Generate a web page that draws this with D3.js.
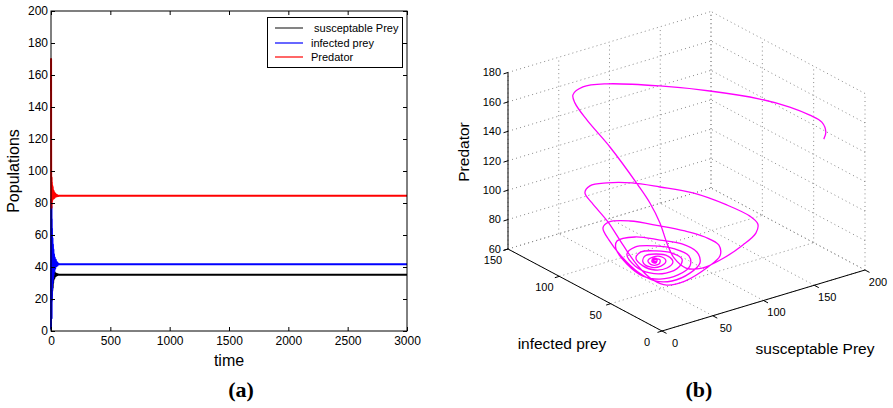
<!DOCTYPE html>
<html><head><meta charset="utf-8">
<script src="https://cdn.jsdelivr.net/npm/d3@7"></script>
<style>
body{margin:0;background:#fff}
svg{display:block}
text{font-family:Arial,"Liberation Sans",Helvetica,sans-serif;fill:#000}
text.serif{font-family:"Liberation Serif","Times New Roman",Times,serif;font-weight:bold}
</style>
</head><body>
<svg id="c" width="893" height="408"></svg>
<script>
// ---------- panel (a) data ----------
const timeVals    = [0,0.5,1,1.5,2,3,4,5,6,7,8,10,12,14,16,18,20,22,25,28,31,35,40,45,50,55,60,70,3000];
const susceptible = [30,22,18,24,32,20,30,19,33,22,34,25,37,27,38,30,37.5,32,37,33,36.5,34,36,34.6,35.6,35,35.3,35.2,35.2];
const infected    = [1,30,60,82,50,15,78,8,70,20,64,26,58,30,54,33,51,35,48,37,46,39,44.5,40.5,43,41,42.2,41.7,41.7];
const predator    = [150,170,120,95,80,92,77,96,79,93,81,91,82,90,82.5,88,83,87.5,83,86.5,83.5,86,84,85.2,84.2,84.8,84.4,84.5,84.5];
const timeTicks   = [0,500,1000,1500,2000,2500,3000];
const popTicks    = [0,20,40,60,80,100,120,140,160,180,200];
const seriesNames = [" susceptable Prey","infected prey","Predator"];
const seriesColors= ["#000000","#0000ff","#ff0000"];

// ---------- panel (b) data ----------
const trajS = [169.5,176.6,179.7,176.0,166.3,149.0,123.0,99.0,65.0,47.5,39.7,39.6,42.3,44.8,52.2,48.8,43.5,37.2,34.1,38.8,
  51.5,71.2,93.9,110.7,118.7,116.9,104.3,83.1,60.6,41.1,21.7,9.9,7.0,7.9,11.5,12.1,12.7,17.4,25.1,39.8,
  63.5,79.3,84.4,77.7,65.1,48.5,27.1,10.4,8.6,10.4,9.1,12.7,21.4,34.1,51.8,64.7,66.7,58.1,43.5,26.0,
  12.3,9.3,9.9,15.6,28.3,45.1,58.9,61.9,53.1,38.6,22.9,14.0,14.9,24.5,38.3,52.1,57.1,51.3,38.5,25.8,
  18.8,21.7,30.5,42.3,49.2,47.3,37.5,27.7,23.7,27.6,38.4,44.3,42.4,34.5,28.6,31.6,38.5,40.5,36.0,32.6,
  36.5,37.5,33.6,32.6,36.5,37.5,34.5,34.1,36.0,35];
const trajI = [10,15,22,30,40,52,75,100,118,124,126,124,115,95,75,60,45,32,22,15,
  12,12,14,18,24,30,40,52,62,70,75,80,82,76,64,50,36,26,20,17,
  18,22,28,35,42,50,58,62,66,62,48,36,28,24,24,27,32,38,45,52,
  56,54,44,34,30,29,31,35,40,45,49,48,41,36,34,35,37,41,44,46,
  44,40,37,37,38,41,43,44,42,39,39,40,42,43,42,41,41,42,42.5,42,
  42,42,42,42,42,42,42,42,42,42];
const trajP = [151.6,153.1,156.6,159.1,162.9,167.5,169.8,168.9,170.7,170.0,165.5,160.8,152.0,140.5,120.5,114.6,107.7,100.2,94.4,89.2,
  87.6,89.7,93.8,96.9,99.2,102.7,109.2,117.3,122.3,126.1,128.3,126.9,122.0,117.2,108.0,97.4,88.2,81.4,78.6,79.4,
  83.7,86.3,90.5,94.8,98.9,102.8,107.6,108.9,103.8,96.7,90.6,84.1,79.2,78.0,79.7,82.8,88.0,93.0,96.1,99.2,
  97.8,93.8,87.2,81.5,78.3,78.0,80.5,85.2,89.9,93.1,94.1,91.6,85.9,81.0,78.8,79.7,83.3,87.1,90.1,91.3,
  89.4,84.9,81.4,80.3,82.6,85.9,88.6,88.9,86.4,83.3,81.7,83.5,85.9,87.1,86.1,83.1,82.3,84.3,85.7,84.6,
  83.1,85.6,86.7,84.9,83.4,84.9,85.9,85.0,84.2,85];
const sTicks = [0,50,100,150,200];
const iTicks = [0,50,100,150];
const pTicks = [60,80,100,120,140,160,180];

const svg = d3.select("#c");

// ================= panel (a) =================
const x = d3.scaleLinear().domain([0,3000]).range([51,407]);
const y = d3.scaleLinear().domain([0,200]).range([331,11]);
const gA = svg.append("g");

const seriesVals = [susceptible, infected, predator];
const line = d3.line().x((d,k)=>x(timeVals[k])).y(d=>y(d));
seriesVals.forEach((vals,k)=>{
  gA.append("path").attr("d",line(vals)).attr("fill","none")
    .attr("stroke",seriesColors[k]).attr("stroke-width",2).attr("stroke-linejoin","round");
});

function styleAxis(g, size){
  g.select(".domain").remove();
  g.selectAll("line").attr("stroke","#000");
  g.selectAll("text").attr("font-size",size).attr("fill","#000");
}
const fmt = d3.format("d");
gA.append("g").attr("transform","translate(0,331)")
  .call(d3.axisBottom(x).tickValues(timeTicks).tickFormat(fmt).tickSize(-4).tickPadding(5.5))
  .call(g=>styleAxis(g,12));
gA.append("g").attr("transform","translate(0,11)")
  .call(d3.axisTop(x).tickValues(timeTicks).tickSize(-4).tickFormat(""))
  .call(g=>styleAxis(g,12));
gA.append("g").attr("transform","translate(51,0)")
  .call(d3.axisLeft(y).tickValues(popTicks).tickFormat(fmt).tickSize(-4).tickPadding(3))
  .call(g=>styleAxis(g,12));
gA.append("g").attr("transform","translate(407,0)")
  .call(d3.axisRight(y).tickValues(popTicks).tickSize(-4).tickFormat(""))
  .call(g=>styleAxis(g,12));
gA.append("rect").attr("x",x(0)).attr("y",y(200)).attr("width",x(3000)-x(0)).attr("height",y(0)-y(200))
  .attr("fill","none").attr("stroke","#000").attr("stroke-width",1);

// legend
const lg = gA.append("g");
lg.append("rect").attr("x",267.5).attr("y",17.5).attr("width",135).attr("height",50)
  .attr("fill","#fff").attr("stroke","#000").attr("stroke-width",1);
const legY = [28,43,57];
seriesNames.forEach((n,k)=>{
  lg.append("line").attr("x1",275).attr("x2",303).attr("y1",legY[k]).attr("y2",legY[k])
    .attr("stroke",k===0?"#333":seriesColors[k]).attr("stroke-width",1.2);
  lg.append("text").attr("x",311).attr("y",legY[k]).attr("dy","0.35em")
    .attr("xml:space","preserve").style("white-space","pre")
    .attr("font-size",11).text(n);
});

gA.append("text").attr("x",229).attr("y",366).attr("text-anchor","middle").attr("font-size",16).text("time");
gA.append("text").attr("transform","translate(19,171) rotate(-90)").attr("text-anchor","middle").attr("font-size",16).text("Populations");
gA.append("text").attr("class","serif").attr("x",241).attr("y",397).attr("text-anchor","middle")
  .attr("font-size",22).text("(a)");

// ================= panel (b) =================
const gB = svg.append("g");
const O  = [662,331];
const vS = [203,-61], vI = [-154,-82], vP = [0,-176.5];
const sScale = d3.scaleLinear().domain([0,200]).range([0,1]);
const iScale = d3.scaleLinear().domain([0,150]).range([0,1]);
const pScale = d3.scaleLinear().domain([60,180]).range([0,1]);
function proj(s,i,p){
  const a=sScale(s), b=iScale(i), c=pScale(p);
  return [O[0]+a*vS[0]+b*vI[0]+c*vP[0], O[1]+a*vS[1]+b*vI[1]+c*vP[1]];
}
const segs = [];
sTicks.forEach(s=>{ segs.push([[s,0,60],[s,150,60]]); segs.push([[s,150,60],[s,150,180]]); });
iTicks.forEach(i=>{ segs.push([[0,i,60],[200,i,60]]); segs.push([[200,i,60],[200,i,180]]); });
pTicks.forEach(p=>{ segs.push([[0,150,p],[200,150,p]]); segs.push([[200,0,p],[200,150,p]]); });
segs.forEach(([a,b])=>{
  const A=proj(...a), B=proj(...b);
  gB.append("line").attr("x1",A[0]).attr("y1",A[1]).attr("x2",B[0]).attr("y2",B[1])
    .attr("stroke","#8a8a8a").attr("stroke-width",1).attr("stroke-dasharray","1,3.2");
});

const pts = trajS.map((s,k)=>proj(s,trajI[k],trajP[k]));
gB.append("path").attr("d",d3.line().curve(d3.curveCatmullRom.alpha(0.5))(pts))
  .attr("fill","none").attr("stroke","#ff00ff").attr("stroke-width",1.3);

function axisLine(a,b){
  const A=proj(...a), B=proj(...b);
  gB.append("line").attr("x1",A[0]).attr("y1",A[1]).attr("x2",B[0]).attr("y2",B[1])
    .attr("stroke","#000").attr("stroke-width",1);
}
axisLine([0,150,60],[0,150,180]);
axisLine([0,0,60],[0,150,60]);
axisLine([0,0,60],[200,0,60]);

function tick(P,dx,dy){
  gB.append("line").attr("x1",P[0]).attr("y1",P[1]).attr("x2",P[0]+dx).attr("y2",P[1]+dy)
    .attr("stroke","#000").attr("stroke-width",1);
}
pTicks.forEach(p=>{
  const P=proj(0,150,p); tick(P,-4.5,1.4);
  gB.append("text").attr("x",P[0]-7).attr("y",P[1]).attr("dy","0.35em").attr("text-anchor","end")
    .attr("font-size",11).text(p);
});
iTicks.forEach(i=>{
  const P=proj(0,i,60); tick(P,-4.5,1.4);
  gB.append("text").attr("x",P[0]-15).attr("y",P[1]+11).attr("dy","0.35em").attr("text-anchor","middle")
    .attr("font-size",11).text(i);
});
sTicks.forEach(s=>{
  const P=proj(s,0,60); tick(P,4.5,2.4);
  gB.append("text").attr("x",P[0]+13).attr("y",P[1]+12).attr("dy","0.35em").attr("text-anchor","middle")
    .attr("font-size",11).text(s);
});

gB.append("text").attr("transform","translate(469,152) rotate(-90)").attr("text-anchor","middle").attr("font-size",15.5).text("Predator");
gB.append("text").attr("x",562).attr("y",349).attr("text-anchor","middle").attr("font-size",15.5).text("infected prey");
gB.append("text").attr("x",815).attr("y",354).attr("text-anchor","middle").attr("font-size",15.5).text("susceptable Prey");
gB.append("text").attr("class","serif").attr("x",699).attr("y",397).attr("text-anchor","middle")
  .attr("font-size",22).text("(b)");
</script>
</body></html>
